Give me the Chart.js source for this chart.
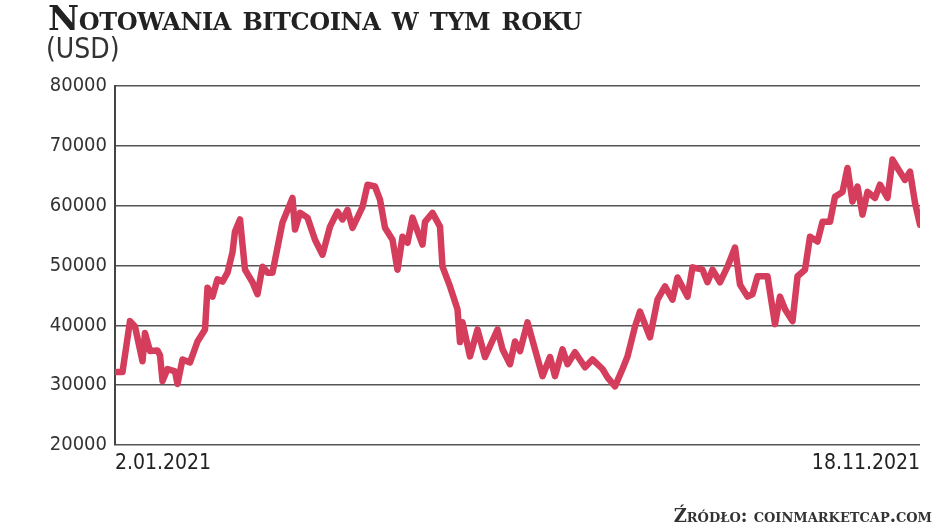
<!DOCTYPE html>
<html>
<head>
<meta charset="utf-8">
<script src="https://cdn.jsdelivr.net/npm/chart.js@4"></script>
<style>
  body { margin: 0; background: #fff; }
  #wrap { position: relative; width: 948px; height: 532px; }
  #title { position: absolute; left: 48px; top: -2px; font-family: "DejaVu Serif", serif; font-weight: bold; font-variant: small-caps; font-size: 34px; color: #222; letter-spacing: -0.4px; }
  #unit { position: absolute; left: 46px; top: 32px; font-family: "DejaVu Sans Condensed", "Liberation Sans", sans-serif; font-size: 28px; color: #333; }
  #src { position: absolute; right: 16px; top: 505px; font-family: "DejaVu Serif", serif; font-weight: bold; font-variant: small-caps; font-size: 18px; color: #333; }
</style>
</head>
<body>
<div id="wrap">
  <canvas id="btc" width="948" height="532"></canvas>
  <div id="title">Notowania bitcoina w tym roku</div>
  <div id="unit">(USD)</div>
  <div id="src">Źródło: coinmarketcap.com</div>
</div>
<script>
// day index from 2.01.2021
const days = [0,3,6,8,11,12,14,17,18,19,21,24,25,27,30,33,36,37,39,41,43,45,47,48,50,52,55,57,59,61,63,67,71,72,74,77,80,83,86,89,91,93,95,99,101,104,106,108,111,113,115,117,119,123,124,127,130,131,134,137,138,139,142,145,148,153,155,158,160,162,165,
  168,171,174,176,179,181,184,188,191,195,197,200,203,205,208,210,214,217,220,223,225,229,231,235,237,239,242,245,248,250,253,255,257,261,264,266,268,271,273,276,278,281,283,286,288,291,293,295,297,299,301,304,306,309,311,313,316,318,320,322];
const prices = [32200,32200,40700,39800,34000,38700,35700,35800,35000,30700,32700,32300,30200,34300,33800,37300,39300,46300,44800,47700,47300,48800,52200,55700,57700,49300,47200,45200,49800,48800,48800,57200,61300,56000,58800,58000,54300,51800,56500,59000,57700,59300,56300,59800,63500,63200,61000,56300,54300,49300,54800,53800,58000,53500,57300,58800,56500,49800,46500,42700,37200,40500,34800,39300,34700,39300,36000,33500,37300,35700,40500,
  36000,31500,34700,31500,36000,33500,35500,33000,34300,32700,31300,29800,32700,34800,39800,42300,38000,44300,46500,44300,48000,44800,49700,49300,47200,49300,47200,49800,53000,46800,44800,45200,48200,48200,40200,44800,42700,40700,48200,49300,54800,54000,57300,57300,61500,62300,66300,60700,63200,58500,62300,61300,63500,61300,67700,66300,64300,65700,60500,56800];
const yTicks = [20000,30000,40000,50000,60000,70000,80000];
const xLabels = {0: "2.01.2021", 322: "18.11.2021"};

const pts = days.map((d, i) => ({ x: d, y: prices[i] }));
const tickFont = "'DejaVu Sans Condensed', 'Liberation Sans', sans-serif";

new Chart(document.getElementById("btc"), {
  type: "line",
  data: {
    datasets: [{
      data: pts,
      borderColor: "#d43d5c",
      borderWidth: 6.5,
      pointRadius: 0,
      tension: 0,
      borderJoinStyle: "round",
      borderCapStyle: "round"
    }]
  },
  options: {
    responsive: false,
    animation: false,
    layout: { padding: { top: 86, right: 28, left: 0, bottom: 57 } },
    plugins: { legend: { display: false }, tooltip: { enabled: false } },
    scales: {
      x: {
        type: "linear",
        min: 0,
        max: 322,
        afterBuildTicks: axis => { axis.ticks = [{ value: 0 }, { value: 322 }]; },
        afterFit: axis => { axis.height = 30; },
        grid: { display: false, drawTicks: false },
        border: { display: false },
        ticks: {
          align: "inner",
          padding: 6,
          color: "#222",
          font: { family: tickFont, size: 21 },
          callback: v => xLabels[v] || ""
        }
      },
      y: {
        min: 20000,
        max: 80000,
        afterBuildTicks: axis => { axis.ticks = yTicks.map(v => ({ value: v })); },
        afterFit: axis => { axis.width = 115; },
        grid: { color: "#555", lineWidth: 1.5, drawTicks: false },
        border: { display: true, color: "#444", width: 2 },
        ticks: {
          padding: 8,
          color: "#333",
          font: { family: tickFont, size: 20 },
          callback: v => String(v)
        }
      }
    }
  }
});
</script>
</body>
</html>
